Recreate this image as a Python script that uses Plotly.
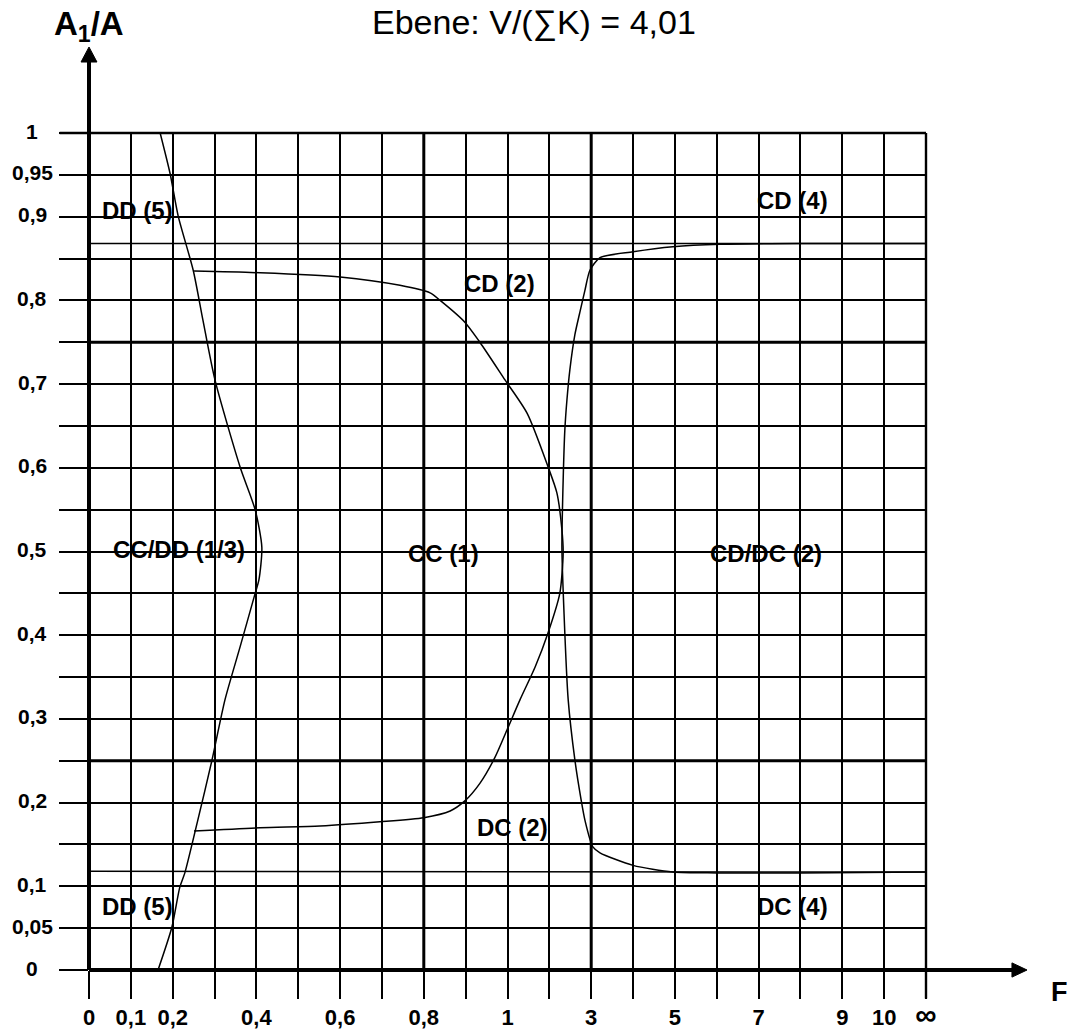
import plotly.graph_objects as go

# ---- axis scales -------------------------------------------------------
# F is drawn on an evenly spaced scale; each grid column carries the F value it stands for
x_tick_pos = [0.0, 0.1, 0.2, 0.3, 0.4, 0.5, 0.6, 0.7, 0.8, 0.9, 1.0,
              1.1, 1.2, 1.3, 1.4, 1.5, 1.6, 1.7, 1.8, 1.9, 2.0]
x_tick_text = ["0", "0,1", "0,2", "", "0,4", "", "0,6", "", "0,8", "", "1",
               "", "3", "", "5", "", "7", "", "9", "10",
               "<span style='font-size:30px'>\u221e</span>"]

y_grid_pos = [0.0, 0.05, 0.1, 0.15, 0.2, 0.25, 0.3, 0.35, 0.4, 0.45, 0.5,
              0.55, 0.6, 0.65, 0.7, 0.75, 0.8, 0.85, 0.9, 0.95, 1.0]
y_label_pos = [0.0, 0.05, 0.1, 0.2, 0.3, 0.4, 0.5, 0.6, 0.7, 0.8, 0.9, 0.95, 1.0]
y_label_text = ["0", "0,05", "0,1", "0,2", "0,3", "0,4", "0,5", "0,6", "0,7",
                "0,8", "0,9", "0,95", "1"]

# heavier grid lines
x_heavy = [0.8, 1.2]
y_heavy = [0.25, 0.75]

# ---- region boundaries --------------------------------------------------
# DD / CC-DD boundary (left S-shaped curve)
dd_x = [0.170, 0.194, 0.213, 0.249, 0.272, 0.301, 0.361, 0.397, 0.413, 0.406,
        0.397, 0.361, 0.325, 0.294, 0.260, 0.229, 0.217, 0.198, 0.165]
dd_y = [1.000, 0.951, 0.901, 0.836, 0.777, 0.705, 0.601, 0.550, 0.505, 0.466,
        0.450, 0.386, 0.323, 0.251, 0.179, 0.116, 0.099, 0.051, 0.000]

# CC (1) region outline
cc_x = [0.251, 0.409, 0.600, 0.743, 0.815, 0.839, 0.898, 0.934, 0.994, 1.047,
        1.097, 1.118, 1.130, 1.133, 1.125, 1.097, 1.066, 1.030, 0.999, 0.970,
        0.934, 0.898, 0.863, 0.800, 0.695, 0.552, 0.409, 0.251]
cc_y = [0.835, 0.833, 0.828, 0.818, 0.809, 0.800, 0.774, 0.750, 0.705, 0.665,
        0.601, 0.570, 0.526, 0.498, 0.450, 0.403, 0.362, 0.323, 0.287, 0.254,
        0.223, 0.202, 0.190, 0.182, 0.177, 0.172, 0.170, 0.166]

# CD/DC (2) boundary (right bracket)
cd_x = [2.000, 1.700, 1.508, 1.395, 1.300, 1.221, 1.197, 1.185, 1.173, 1.161,
        1.149, 1.142, 1.137, 1.133, 1.130, 1.135, 1.145, 1.161, 1.176, 1.185,
        1.204, 1.221, 1.300, 1.395, 1.501, 1.699, 2.000]
cd_y = [0.868, 0.868, 0.867, 0.864, 0.858, 0.851, 0.836, 0.812, 0.786, 0.759,
        0.717, 0.681, 0.645, 0.585, 0.505, 0.427, 0.323, 0.251, 0.203, 0.179,
        0.147, 0.140, 0.125, 0.117, 0.116, 0.116, 0.117]

# straight limits of the (4) regions
upper_x = [0.0, 2.0]
upper_y = [0.868, 0.868]
lower_x = [0.0, 2.0]
lower_y = [0.118, 0.117]

# ---- region names ---------------------------------------------------------
region_text = ["DD (5)", "CD (4)", "CD (2)", "CC/DD (1/3)", "CC (1)",
               "CD/DC (2)", "DC (2)", "DD (5)", "DC (4)"]
region_x = [0.115, 1.682, 0.982, 0.214, 0.848, 1.618, 1.013, 0.115, 1.682]
region_y = [0.908, 0.919, 0.820, 0.502, 0.498, 0.498, 0.170, 0.076, 0.076]

FONT = "Liberation Sans, Arial, sans-serif"

fig = go.Figure()

for xs, ys, w in [(upper_x, upper_y, 1.5), (lower_x, lower_y, 1.5),
                  (dd_x, dd_y, 1.5), (cc_x, cc_y, 1.5), (cd_x, cd_y, 1.5)]:
    fig.add_trace(go.Scatter(
        x=xs, y=ys, mode="lines", showlegend=False, hoverinfo="skip",
        line=dict(color="black", width=w, shape="spline", smoothing=0.7),
    ))

shapes = []
# heavier grid lines
for xv in x_heavy:
    shapes.append(dict(type="line", xref="x", yref="y", x0=xv, x1=xv, y0=0, y1=1,
                       line=dict(color="black", width=3), layer="below"))
for yv in y_heavy:
    shapes.append(dict(type="line", xref="x", yref="y", x0=0, x1=2.0, y0=yv, y1=yv,
                       line=dict(color="black", width=3), layer="below"))
# frame at the top and right edge of the grid
shapes.append(dict(type="line", xref="paper", yref="paper", x0=-0.035, x1=1, y0=1, y1=1,
                   line=dict(color="black", width=2.4)))
shapes.append(dict(type="line", xref="paper", yref="paper", x0=1, x1=1, y0=1, y1=-0.034,
                   line=dict(color="black", width=2.4)))
# axes with arrow heads
shapes.append(dict(type="line", xref="paper", yref="paper", x0=0, x1=0, y0=0, y1=1.087,
                   line=dict(color="black", width=4)))
shapes.append(dict(type="line", xref="paper", yref="paper", x0=0, x1=1.105, y0=0, y1=0,
                   line=dict(color="black", width=4)))
shapes.append(dict(type="path", xref="paper", yref="paper",
                   path="M -0.0095 1.0848 L 0 1.1027 L 0.0095 1.0848 Z",
                   fillcolor="black", line=dict(color="black", width=1)))
shapes.append(dict(type="path", xref="paper", yref="paper",
                   path="M 1.1027 0.0085 L 1.1207 0 L 1.1027 -0.0085 Z",
                   fillcolor="black", line=dict(color="black", width=1)))

annotations = []
for t, xv, yv in zip(region_text, region_x, region_y):
    annotations.append(dict(text=t, x=xv, y=yv, xref="x", yref="y", showarrow=False,
                            xanchor="center", yanchor="middle",
                            font=dict(family=FONT, size=24, color="black", weight="bold")))
for t, yv in zip(y_label_text, y_label_pos):
    annotations.append(dict(text=t, x=-0.0681, y=yv, xref="paper", yref="y", showarrow=False,
                            xanchor="center", yanchor="middle", yshift=2,
                            font=dict(family=FONT, size=21, color="black", weight="bold")))
annotations.append(dict(text="Ebene: V/(\u2211K) = 4,01", x=0.5317, y=1.132,
                        xref="paper", yref="paper", showarrow=False,
                        xanchor="center", yanchor="middle",
                        font=dict(family=FONT, size=34, color="black")))
annotations.append(dict(text="A<sub>1</sub>/A", x=0.0, y=1.128,
                        xref="paper", yref="paper", showarrow=False,
                        xanchor="center", yanchor="middle",
                        font=dict(family=FONT, size=33, color="black", weight="bold")))
annotations.append(dict(text="F", x=1.160, y=-0.0263,
                        xref="paper", yref="paper", showarrow=False,
                        xanchor="center", yanchor="middle",
                        font=dict(family=FONT, size=27, color="black", weight="bold")))

fig.update_layout(
    width=1069, height=1036, autosize=False,
    margin=dict(l=89, r=143, t=133, b=66, autoexpand=False),
    paper_bgcolor="white", plot_bgcolor="white",
    shapes=shapes, annotations=annotations, showlegend=False,
)
fig.update_xaxes(
    range=[0, 2.0], tickmode="array", tickvals=x_tick_pos, ticktext=x_tick_text,
    showgrid=True, gridcolor="black", gridwidth=2.4, zeroline=False, showline=False,
    ticks="outside", ticklen=28, tickwidth=2.4, tickcolor="black",
    ticklabelstandoff=0, automargin=False,
    tickfont=dict(family=FONT, size=22, color="black", weight="bold"),
)
fig.update_yaxes(
    range=[0, 1.0], tickmode="array", tickvals=y_grid_pos, ticktext=[""] * len(y_grid_pos),
    showgrid=True, gridcolor="black", gridwidth=2.4, zeroline=False, showline=False,
    ticks="outside", ticklen=29, tickwidth=2.4, tickcolor="black", automargin=False,
)

fig.write_html("out.html")
